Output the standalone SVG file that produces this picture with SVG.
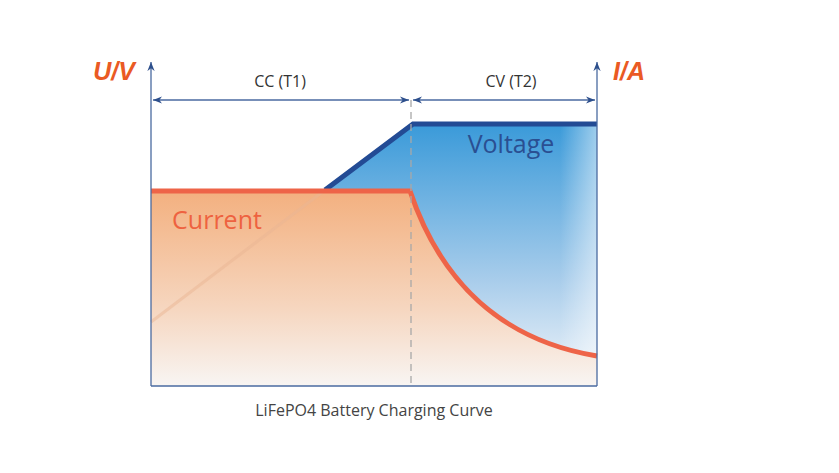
<svg xmlns="http://www.w3.org/2000/svg" width="839" height="473" viewBox="0 0 839 473">
<defs>
<linearGradient id="gb" x1="0" y1="0" x2="0" y2="1"><stop offset="0" stop-color="#3a9ad9"/><stop offset="0.6" stop-color="#a9cdeb"/><stop offset="1" stop-color="#f2f6fa"/></linearGradient>
<linearGradient id="go" x1="0" y1="0" x2="0" y2="1"><stop offset="0" stop-color="#f3b07f"/><stop offset="0.6" stop-color="#f6d6bf"/><stop offset="1" stop-color="#f8f5f3"/></linearGradient>
<linearGradient id="fade" x1="0" y1="0" x2="1" y2="0"><stop offset="0" stop-color="#fff" stop-opacity="0"/><stop offset="1" stop-color="#fff" stop-opacity="0.5"/></linearGradient>
<marker id="ah" viewBox="0 0 10 10" refX="10" refY="5" markerWidth="7" markerHeight="7" orient="auto-start-reverse"><path d="M0,1 L10,5 L0,9 L3,5 Z" fill="#2d4f8c"/></marker>
<style>.ax{stroke:#4a6aa0;stroke-width:1.3;fill:none}.t{font-family:"Open Sans","Liberation Sans",sans-serif}</style>
</defs>
<g id="fills">
<path d="M151,322 L413,124 L597,124 L597,386 L151,386 Z" fill="url(#gb)"/>
<rect x="560" y="124" width="37" height="262" fill="url(#fade)"/>
<path d="M151,191 L410,191 C440,280 500,340 597,356 L597,386 L151,386 Z" fill="url(#go)"/>
</g>
<g id="voltage">
<path d="M151,322 L325,190" stroke="#e9b694" stroke-width="3" fill="none" opacity="0.5"/>
<path d="M325,190 L413,124 L597,124" stroke="#234b94" stroke-width="5" fill="none"/>
<text class="t" x="511" y="153" font-size="25" fill="#2a4f92" text-anchor="middle">Voltage</text>
</g>
<g id="current">
<path d="M151,191 L410,191 C440,280 500,340 597,356" stroke="#ee6448" stroke-width="5" fill="none"/>
<text class="t" x="217" y="229" font-size="25" fill="#ee6240" text-anchor="middle">Current</text>
</g>
<g id="connectors">
<line x1="411" y1="100" x2="411" y2="386" stroke="#a8a8a8" stroke-width="1.3" stroke-dasharray="7,5"/>
<line class="ax" x1="151" y1="386" x2="151" y2="62" marker-end="url(#ah)"/>
<line class="ax" x1="597" y1="386" x2="597" y2="62" marker-end="url(#ah)"/>
<line class="ax" x1="151" y1="386" x2="597" y2="386"/>
<line class="ax" x1="153" y1="100" x2="409" y2="100" marker-start="url(#ah)" marker-end="url(#ah)"/>
<line class="ax" x1="413" y1="100" x2="595" y2="100" marker-start="url(#ah)" marker-end="url(#ah)"/>
</g>
<g id="labels">
<text class="t" x="280" y="87" font-size="16" fill="#333" text-anchor="middle">CC (T1)</text>
<text class="t" x="511" y="87" font-size="16" fill="#333" text-anchor="middle">CV (T2)</text>
<text x="114" y="80" font-size="25" font-weight="bold" font-style="italic" fill="#ea5a24" text-anchor="middle" font-family="Liberation Sans,sans-serif">U/V</text>
<text x="629" y="80" font-size="25" font-weight="bold" font-style="italic" fill="#ea5a24" text-anchor="middle" font-family="Liberation Sans,sans-serif">I/A</text>
<text class="t" x="374" y="416" font-size="16" fill="#444" text-anchor="middle">LiFePO4 Battery Charging Curve</text>
</g>
</svg>
